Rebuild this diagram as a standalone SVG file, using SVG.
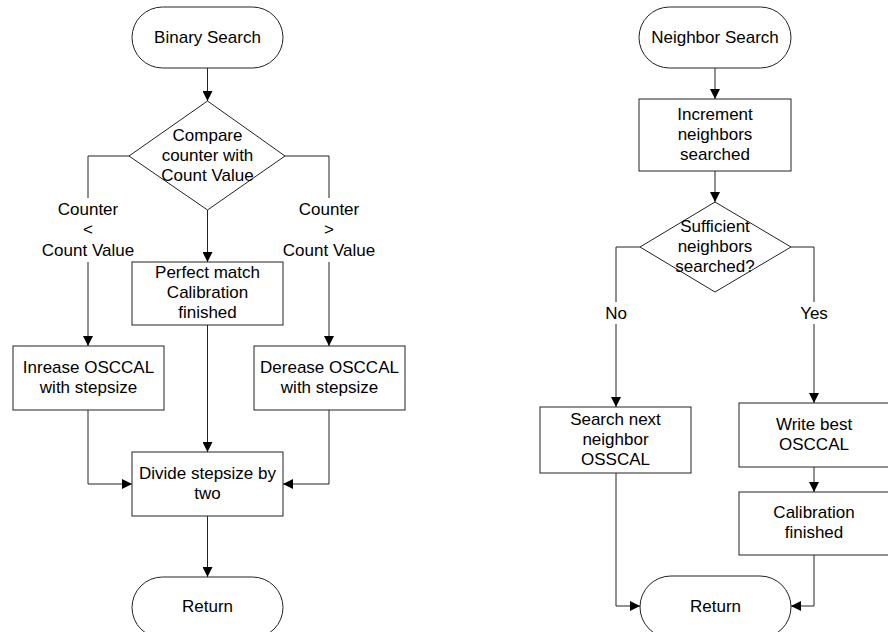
<svg xmlns="http://www.w3.org/2000/svg" width="888" height="632" viewBox="0 0 888 632">
<defs>
<marker id="ah" markerWidth="10" markerHeight="10" refX="10" refY="5" orient="auto" markerUnits="userSpaceOnUse">
<path d="M0,0 L10,5 L0,10 Z" fill="#000"/>
</marker>
<style>
.s{fill:#fff;stroke:#222;stroke-width:1}
.t{font-family:"Liberation Sans",Arial,sans-serif;font-size:17px;fill:#000;text-anchor:middle}
.c{fill:none;stroke:#222;stroke-width:1}
.a{marker-end:url(#ah)}
</style>
</defs>
<rect width="888" height="632" fill="#fff"/>
<g id="connectors">
<path class="c a" d="M207.5,68 V101"/>
<path class="c" d="M129,156 H88 V198"/>
<path class="c a" d="M88,262 V346"/>
<path class="c" d="M285,156 H329 V198"/>
<path class="c a" d="M329,262 V346"/>
<path class="c a" d="M207.5,210 V262"/>
<path class="c a" d="M207.5,325 V452"/>
<path class="c a" d="M88,410 V484 H132"/>
<path class="c a" d="M329,410 V484 H283"/>
<path class="c a" d="M207.5,516 V577"/>
<path class="c a" d="M715,68 V99"/>
<path class="c a" d="M715,171 V202"/>
<path class="c" d="M640,247 H616 V302"/>
<path class="c a" d="M616,324 V407"/>
<path class="c" d="M791,247 H814 V302"/>
<path class="c a" d="M814,324 V403"/>
<path class="c a" d="M814,467 V492"/>
<path class="c a" d="M616,473 V606 H640"/>
<path class="c a" d="M814,555 V606 H791"/>
</g>
<g id="binary-search"><rect class="s" x="132" y="7" width="151" height="61" rx="30.5" ry="30.5"/><text class="t" x="207.5" y="43">Binary Search</text></g>
<g id="compare"><polygon class="s" points="207.5,101 285,156 207.5,210 129,156"/><text class="t" x="207.5" y="141">Compare</text><text class="t" x="207.5" y="161">counter with</text><text class="t" x="207.5" y="181">Count Value</text></g>
<g id="label-less"><text class="t" x="88" y="215">Counter</text><text class="t" x="88" y="235">&lt;</text><text class="t" x="88" y="256">Count Value</text></g>
<g id="label-greater"><text class="t" x="329" y="215">Counter</text><text class="t" x="329" y="235">&gt;</text><text class="t" x="329" y="256">Count Value</text></g>
<g id="perfect-match"><rect class="s" x="132" y="262" width="151" height="63"/><text class="t" x="207.5" y="278">Perfect match</text><text class="t" x="207.5" y="298">Calibration</text><text class="t" x="207.5" y="318">finished</text></g>
<g id="increase"><rect class="s" x="13" y="346" width="151" height="64"/><text class="t" x="88.5" y="373">Inrease OSCCAL</text><text class="t" x="88.5" y="393">with stepsize</text></g>
<g id="decrease"><rect class="s" x="254" y="346" width="151" height="64"/><text class="t" x="329.5" y="373">Derease OSCCAL</text><text class="t" x="329.5" y="393">with stepsize</text></g>
<g id="divide"><rect class="s" x="132" y="452" width="151" height="64"/><text class="t" x="207.5" y="479">Divide stepsize by</text><text class="t" x="207.5" y="499">two</text></g>
<g id="return-left"><rect class="s" x="132" y="577" width="151" height="61" rx="30.5" ry="30.5"/><text class="t" x="207.5" y="612">Return</text></g>
<g id="neighbor-search"><rect class="s" x="639" y="7" width="152" height="61" rx="30.5" ry="30.5"/><text class="t" x="715" y="43">Neighbor Search</text></g>
<g id="increment"><rect class="s" x="639" y="99" width="152" height="72"/><text class="t" x="715" y="120">Increment</text><text class="t" x="715" y="140">neighbors</text><text class="t" x="715" y="160">searched</text></g>
<g id="sufficient"><polygon class="s" points="715,202 791,247 715,292 640,247"/><text class="t" x="715" y="232">Sufficient</text><text class="t" x="715" y="252">neighbors</text><text class="t" x="715" y="272">searched?</text></g>
<g id="label-no"><text class="t" x="616" y="319">No</text></g>
<g id="label-yes"><text class="t" x="814" y="319">Yes</text></g>
<g id="search-next"><rect class="s" x="540" y="407" width="151" height="66"/><text class="t" x="615.5" y="425">Search next</text><text class="t" x="615.5" y="445">neighbor</text><text class="t" x="615.5" y="465">OSSCAL</text></g>
<g id="write-best"><rect class="s" x="739" y="403" width="151" height="64"/><text class="t" x="814" y="430">Write best</text><text class="t" x="814" y="450">OSCCAL</text></g>
<g id="calibration-finished"><rect class="s" x="739" y="492" width="151" height="63"/><text class="t" x="814" y="518">Calibration</text><text class="t" x="814" y="538">finished</text></g>
<g id="return-right"><rect class="s" x="640" y="576" width="151" height="62" rx="31" ry="31"/><text class="t" x="715.5" y="612">Return</text></g>
</svg>
